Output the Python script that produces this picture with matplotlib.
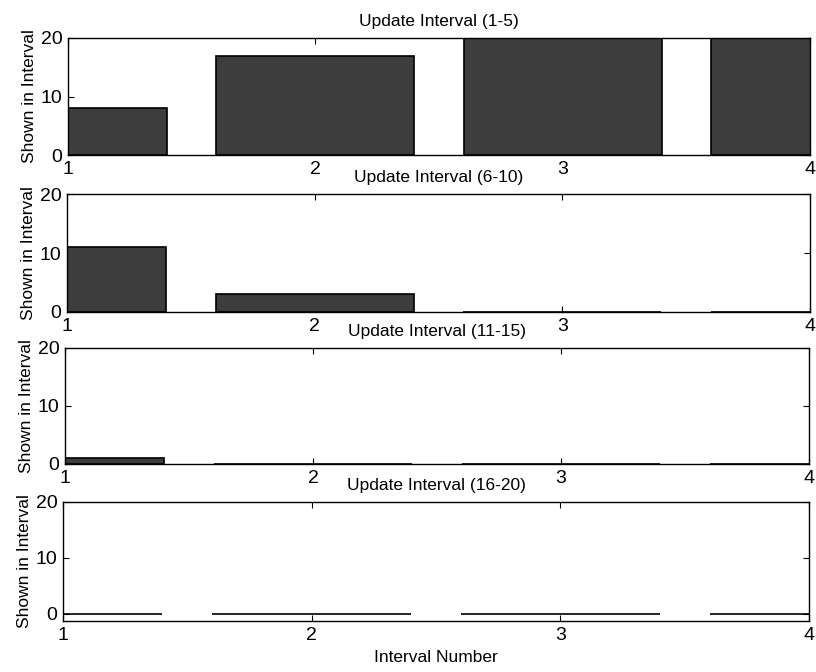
import numpy as np
import matplotlib.pyplot as plt

plt.rcParams['font.family'] = ['Liberation Sans', 'DejaVu Sans']

#interval numbers on the x axis and counts shown per update interval
intervals = [1, 2, 3, 4]
titles = ["Update Interval (1-5)", "Update Interval (6-10)",
          "Update Interval (11-15)", "Update Interval (16-20)"]
shown_1_5 = [8, 17, 20, 20]
shown_6_10 = [11, 3, 0, 0]
shown_11_15 = [1, 0, 0, 0]
shown_16_20 = [0, 0, 0, 0]
counts = [shown_1_5, shown_6_10, shown_11_15, shown_16_20]

#axes boxes in pixels: left, top, right, bottom (figure is 816x672)
boxes = [(68, 38, 810, 155), (67, 194, 810, 312),
         (65, 348, 809, 464), (63, 502, 809, 621)]
ylims = [(0, 20), (0, 20), (0, 20), (-1.25, 20)]

W, H = 816, 672
fig = plt.figure(figsize=(W / 100, H / 100), dpi=100)

for i in range(4):
    l, t, r, b = boxes[i]
    ax = fig.add_axes([l / W, 1 - b / H, (r - l) / W, (b - t) / H])
    ax.bar(intervals, counts[i], width=0.8, color="#3d3d3d",
           edgecolor="black", linewidth=1.2, zorder=2)
    ax.set_xlim(1, 4)
    ax.set_ylim(*ylims[i])
    ax.set_xticks(intervals)
    ax.set_yticks([0, 10, 20])
    ax.tick_params(direction="in", top=True, right=True, length=4,
                   width=0.8, labelsize=14)
    ax.tick_params(axis="x", pad=4)
    ax.tick_params(axis="y", pad=4)
    for s in ax.spines.values():
        s.set_linewidth(1.0)
    ax.set_ylabel("Shown in Interval", fontsize=12.5, labelpad=3)
    ax.set_title(titles[i], fontsize=12.5, pad=8.5)
    if i == 3:
        ax.set_xlabel("Interval Number", fontsize=12.5, labelpad=5)

fig.savefig("out.png", dpi=100)
